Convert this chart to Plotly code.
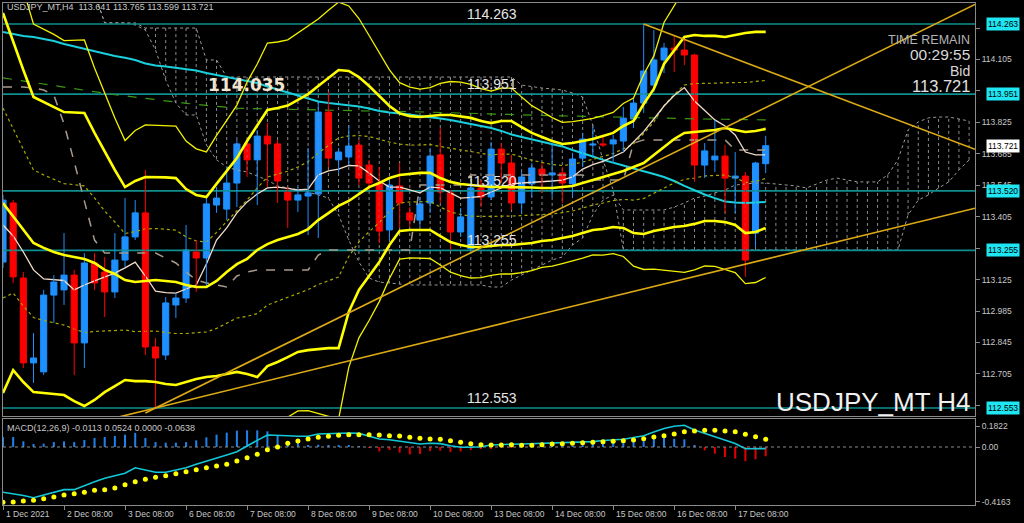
import plotly.graph_objects as go

# ---------------- data ----------------
bars = list(range(76))  # H4 bars from 1 Dec 08:00 to 17 Dec 20:00

opens = [113.203, 113.466, 113.132, 112.754, 112.714, 113.056, 113.079, 113.145, 112.843, 113.199,
         113.159, 113.070, 113.212, 113.315, 113.422, 112.825, 112.789, 113.012, 113.043, 113.248,
         113.221, 113.457, 113.439, 113.555, 113.729, 113.658, 113.764, 113.729, 113.515, 113.479,
         113.497, 113.506, 113.871, 113.658, 113.671, 113.724, 113.635, 113.555, 113.346, 113.542,
         113.422, 113.390, 113.466, 113.680, 113.511, 113.337, 113.262, 113.533, 113.493, 113.706,
         113.644, 113.466, 113.551, 113.617, 113.591, 113.600, 113.551, 113.666, 113.724, 113.729,
         113.729, 113.742, 113.840, 113.911, 113.991, 114.103, 114.156, 114.147, 114.125, 113.635,
         113.658, 113.675, 113.577, 113.586, 113.332, 113.641]
highs = [113.502, 113.479, 113.159, 112.887, 113.079, 113.145, 113.332, 113.168, 113.243, 113.243,
         113.226, 113.332, 113.488, 113.479, 113.613, 112.865, 113.047, 113.065, 113.368, 113.301,
         113.493, 113.537, 113.626, 113.747, 113.747, 113.791, 113.822, 113.747, 113.537, 113.537,
         113.711, 113.916, 113.960, 113.711, 113.813, 113.747, 113.658, 113.626, 113.568, 113.644,
         113.448, 113.493, 113.711, 113.800, 113.524, 113.444, 113.555, 113.568, 113.738, 113.733,
         113.680, 113.604, 113.644, 113.644, 113.733, 113.626, 113.689, 113.778, 113.804, 113.769,
         113.769, 113.894, 113.934, 114.263, 114.236, 114.179, 114.214, 114.205, 114.130, 113.733,
         113.836, 113.724, 113.693, 113.604, 113.649, 113.765]
lows = [113.177, 113.110, 112.731, 112.665, 112.700, 112.932, 113.012, 112.700, 112.731, 113.079,
        112.958, 113.043, 113.181, 113.301, 112.789, 112.553, 112.767, 112.954, 113.021, 113.070,
        113.092, 113.422, 113.390, 113.448, 113.582, 113.457, 113.537, 113.466, 113.355, 113.426,
        113.323, 113.310, 113.626, 113.600, 113.635, 113.546, 113.524, 113.288, 113.301, 113.355,
        113.359, 113.359, 113.422, 113.466, 113.257, 113.315, 113.255, 113.448, 113.479, 113.555,
        113.435, 113.422, 113.493, 113.511, 113.493, 113.466, 113.493, 113.626, 113.671, 113.715,
        113.644, 113.693, 113.800, 113.867, 113.960, 114.045, 114.049, 114.080, 113.560, 113.577,
        113.604, 113.422, 113.422, 113.137, 113.270, 113.599]
closes = [113.479, 113.137, 112.754, 112.776, 113.056, 113.114, 113.145, 112.843, 113.199, 113.110,
          113.070, 113.212, 113.315, 113.422, 112.825, 112.776, 113.021, 113.043, 113.257, 113.221,
          113.462, 113.488, 113.555, 113.729, 113.658, 113.764, 113.729, 113.564, 113.479, 113.502,
          113.511, 113.871, 113.666, 113.693, 113.720, 113.577, 113.555, 113.341, 113.546, 113.466,
          113.390, 113.462, 113.675, 113.515, 113.337, 113.404, 113.533, 113.493, 113.706, 113.644,
          113.466, 113.582, 113.622, 113.591, 113.600, 113.555, 113.662, 113.751, 113.729, 113.724,
          113.747, 113.844, 113.911, 114.054, 114.103, 114.156, 114.147, 114.125, 113.635, 113.698,
          113.675, 113.577, 113.586, 113.212, 113.644, 113.721]

# Bollinger band (middle, +2 sigma, -2 sigma)
bb_mid = [113.466, 113.408, 113.346, 113.288, 113.266, 113.248, 113.234, 113.226, 113.217, 113.199,
          113.168, 113.150, 113.123, 113.114, 113.119, 113.123, 113.119, 113.114, 113.101, 113.092,
          113.092, 113.119, 113.159, 113.194, 113.217, 113.257, 113.283, 113.301, 113.315, 113.328,
          113.350, 113.390, 113.421, 113.453, 113.475, 113.506, 113.537, 113.555, 113.577, 113.591,
          113.595, 113.600, 113.600, 113.577, 113.560, 113.551, 113.546, 113.542, 113.537, 113.537,
          113.537, 113.537, 113.535, 113.533, 113.533, 113.537, 113.542, 113.555, 113.568, 113.582,
          113.595, 113.609, 113.626, 113.644, 113.680, 113.715, 113.751, 113.778, 113.782, 113.787,
          113.791, 113.800, 113.791, 113.782, 113.787, 113.796]
bb_up2 = [114.312, 114.183, 114.058, 113.938, 113.916, 113.894, 113.871, 113.869, 113.867, 113.778,
          113.693, 113.613, 113.537, 113.564, 113.582, 113.582, 113.580, 113.577, 113.528, 113.502,
          113.493, 113.551, 113.609, 113.666, 113.742, 113.809, 113.880, 113.889, 113.900, 113.925,
          113.951, 113.987, 114.023, 114.058, 114.054, 114.027, 113.987, 113.943, 113.898, 113.865,
          113.853, 113.849, 113.853, 113.858, 113.858, 113.853, 113.845, 113.831, 113.822, 113.831,
          113.831, 113.804, 113.778, 113.760, 113.742, 113.729, 113.733, 113.742, 113.751, 113.764,
          113.778, 113.809, 113.831, 113.907, 113.974, 114.085, 114.147, 114.205, 114.214, 114.210,
          114.210, 114.205, 114.214, 114.223, 114.228, 114.228]
bb_lo2 = [112.620, 112.722, 112.669, 112.624, 112.620, 112.616, 112.611, 112.584, 112.562, 112.589,
          112.624, 112.651, 112.678, 112.673, 112.673, 112.669, 112.660, 112.656, 112.669, 112.682,
          112.691, 112.696, 112.705, 112.714, 112.705, 112.691, 112.740, 112.758, 112.780, 112.803,
          112.811, 112.816, 112.820, 112.820, 112.981, 113.079, 113.141, 113.203, 113.279, 113.341,
          113.346, 113.346, 113.346, 113.319, 113.292, 113.279, 113.270, 113.270, 113.275, 113.279,
          113.279, 113.283, 113.288, 113.297, 113.301, 113.310, 113.319, 113.332, 113.346, 113.350,
          113.359, 113.355, 113.332, 113.328, 113.341, 113.350, 113.359, 113.364, 113.373, 113.386,
          113.386, 113.381, 113.368, 113.332, 113.337, 113.355]

cyan_ma = [114.228, 114.219, 114.210, 114.205, 114.196, 114.187, 114.174, 114.163, 114.152, 114.141,
           114.130, 114.121, 114.113, 114.103, 114.087, 114.078, 114.074, 114.067, 114.061, 114.056,
           114.045, 114.036, 114.025, 114.018, 114.009, 114.000, 113.985, 113.971, 113.958, 113.945,
           113.931, 113.918, 113.911, 113.907, 113.900, 113.896, 113.887, 113.876, 113.869, 113.865,
           113.860, 113.853, 113.849, 113.842, 113.836, 113.827, 113.816, 113.807, 113.800, 113.787,
           113.771, 113.760, 113.749, 113.740, 113.729, 113.718, 113.702, 113.689, 113.673, 113.658,
           113.644, 113.633, 113.620, 113.609, 113.595, 113.582, 113.564, 113.542, 113.522, 113.504,
           113.488, 113.473, 113.468, 113.466, 113.468, 113.471]
green_ma = [114.023, 114.016, 114.009, 114.002, 113.995, 113.988, 113.981, 113.974, 113.967, 113.959,
            113.953, 113.948, 113.943, 113.937, 113.932, 113.926, 113.921, 113.916, 113.910, 113.905,
            113.900, 113.896, 113.891, 113.888, 113.887, 113.886, 113.884, 113.883, 113.882, 113.880,
            113.880, 113.879, 113.878, 113.877, 113.877, 113.876, 113.876, 113.875, 113.874, 113.873,
            113.873, 113.872, 113.871, 113.870, 113.869, 113.867, 113.865, 113.864, 113.863, 113.861,
            113.860, 113.859, 113.857, 113.856, 113.854, 113.853, 113.852, 113.850, 113.849, 113.847,
            113.846, 113.845, 113.844, 113.843, 113.843, 113.842, 113.842, 113.841, 113.840, 113.840,
            113.839, 113.839, 113.838, 113.837, 113.837, 113.836]

tenkan = [113.368, 113.319, 113.248, 113.168, 113.128, 113.123, 113.121, 113.079, 113.101, 113.119,
          113.137, 113.154, 113.177, 113.203, 113.141, 113.074, 113.067, 113.065, 113.083, 113.101,
          113.194, 113.301, 113.355, 113.422, 113.471, 113.506, 113.533, 113.537, 113.531, 113.524,
          113.528, 113.591, 113.609, 113.617, 113.633, 113.631, 113.600, 113.564, 113.537, 113.537,
          113.524, 113.511, 113.537, 113.533, 113.511, 113.488, 113.491, 113.495, 113.515, 113.533,
          113.551, 113.555, 113.557, 113.560, 113.564, 113.568, 113.582, 113.617, 113.637, 113.651,
          113.671, 113.693, 113.738, 113.784, 113.840, 113.898, 113.945, 113.980, 113.920, 113.876,
          113.836, 113.809, 113.769, 113.693, 113.680, 113.680]
kijun = [113.983, 113.983, 113.983, 113.978, 113.969, 113.947, 113.818, 113.649, 113.479, 113.301,
         113.243, 113.243, 113.243, 113.243, 113.243, 113.243, 113.221, 113.199, 113.159, 113.123,
         113.110, 113.101, 113.092, 113.141, 113.159, 113.168, 113.168, 113.168, 113.168, 113.168,
         113.168, 113.234, 113.257, 113.257, 113.257, 113.257, 113.257, 113.257, 113.257, 113.257,
         113.257, 113.546, 113.546, 113.546, 113.546, 113.546, 113.591, 113.591, 113.591, 113.591,
         113.591, 113.591, 113.591, 113.591, 113.591, 113.591, 113.591, 113.591, 113.568, 113.568,
         113.568, 113.568, 113.733, 113.747, 113.747, 113.747, 113.747, 113.747, 113.747, 113.747,
         113.747, 113.747, 113.702, 113.702, 113.702, 113.702]

# Ichimoku cloud (spans shifted forward), bar positions 9..95
cloud_x = list(range(9, 96))
span_p = [114.400, 114.268, 114.268, 114.268, 114.268, 114.245, 114.245, 114.245, 114.245, 114.245,
          114.245, 114.103, 114.103, 114.027, 114.027, 114.027, 114.027, 114.027, 114.027, 114.027,
          114.027, 114.027, 114.027, 114.027, 114.027, 114.027, 114.027, 114.027, 114.027, 114.027,
          114.027, 114.027, 114.027, 114.027, 114.027, 114.027, 114.027, 114.027, 114.027, 114.027,
          114.027, 114.027, 113.991, 113.983, 113.978, 113.974, 113.969, 113.956, 113.938, 113.813,
          113.658, 113.524, 113.257, 113.257, 113.257, 113.257, 113.257, 113.257, 113.257, 113.257,
          113.257, 113.257, 113.257, 113.257, 113.257, 113.257, 113.257, 113.257, 113.257, 113.257,
          113.257, 113.257, 113.257, 113.257, 113.257, 113.257, 113.257, 113.257, 113.257, 113.257,
          113.413, 113.479, 113.502, 113.533, 113.560, 113.613, 113.658]
span_q = [114.400, 114.268, 114.268, 114.268, 114.259, 114.236, 114.147, 114.014, 113.911, 113.858,
          113.858, 113.724, 113.658, 113.626, 113.613, 113.604, 113.586, 113.568, 113.542, 113.533,
          113.524, 113.515, 113.502, 113.488, 113.413, 113.301, 113.203, 113.132, 113.114, 113.110,
          113.105, 113.101, 113.101, 113.101, 113.101, 113.101, 113.101, 113.101, 113.101, 113.092,
          113.092, 113.123, 113.145, 113.168, 113.190, 113.212, 113.226, 113.279, 113.310, 113.413,
          113.479, 113.502, 113.435, 113.435, 113.435, 113.435, 113.435, 113.448, 113.466, 113.488,
          113.497, 113.511, 113.524, 113.546, 113.551, 113.555, 113.555, 113.551, 113.546, 113.542,
          113.533, 113.551, 113.568, 113.577, 113.568, 113.560, 113.560, 113.560, 113.591, 113.658,
          113.791, 113.827, 113.845, 113.849, 113.849, 113.840, 113.831]

# horizontal levels and trend lines (bar position, price)
levels = [114.263, 113.951, 113.520, 113.255, 112.553]
trend_x = [[9, 95.58], [14, 95.58], [63, 95.58]]
trend_y = [[112.487, 113.443], [112.531, 114.350], [114.263, 113.705]]

# MACD(12,26,9)
macd_main = [-0.312, -0.321, -0.334, -0.350, -0.331, -0.310, -0.294, -0.294, -0.266, -0.239,
             -0.216, -0.200, -0.181, -0.143, -0.159, -0.174, -0.174, -0.159, -0.143, -0.119,
             -0.099, -0.078, -0.055, -0.032, 0.009, 0.046, 0.083, 0.083, 0.078, 0.074,
             0.074, 0.090, 0.094, 0.097, 0.097, 0.094, 0.072, 0.055, 0.050, 0.039,
             0.028, 0.021, 0.026, 0.023, 0.009, -0.002, -0.002, 0.002, 0.014, 0.019,
             0.019, 0.021, 0.023, 0.024, 0.026, 0.026, 0.032, 0.034, 0.037, 0.045,
             0.048, 0.053, 0.066, 0.078, 0.103, 0.128, 0.143, 0.150, 0.117, 0.093,
             0.072, 0.048, 0.024, -0.012, -0.012, -0.011]
macd_signal = [-0.381, -0.379, -0.372, -0.368, -0.357, -0.345, -0.331, -0.322, -0.312, -0.299,
               -0.294, -0.283, -0.260, -0.239, -0.223, -0.209, -0.198, -0.184, -0.170, -0.157,
               -0.143, -0.131, -0.119, -0.097, -0.074, -0.050, -0.019, 0.000, 0.026, 0.041,
               0.055, 0.067, 0.074, 0.081, 0.085, 0.085, 0.085, 0.083, 0.078, 0.076,
               0.067, 0.060, 0.055, 0.053, 0.043, 0.032, 0.023, 0.016, 0.014, 0.014,
               0.016, 0.012, 0.012, 0.016, 0.021, 0.023, 0.026, 0.030, 0.032, 0.037,
               0.039, 0.043, 0.048, 0.057, 0.069, 0.078, 0.090, 0.106, 0.110, 0.115,
               0.115, 0.110, 0.106, 0.088, 0.071, 0.053]
macd_hist = [0.069, 0.069, 0.039, 0.021, 0.023, 0.034, 0.039, 0.034, 0.048, 0.062,
             0.069, 0.076, 0.085, 0.097, 0.062, 0.034, 0.030, 0.030, 0.034, 0.046,
             0.067, 0.085, 0.099, 0.113, 0.115, 0.115, 0.108, 0.076, 0.039, 0.034,
             0.011, 0.016, 0.011, 0.011, 0.011, 0.002, -0.005, -0.030, -0.021, -0.039,
             -0.051, -0.048, -0.028, -0.025, -0.034, -0.030, -0.021, -0.011, -0.007, -0.005,
             -0.002, 0.002, 0.003, 0.003, 0.004, 0.005, 0.006, 0.016, 0.023, 0.034,
             0.034, 0.039, 0.046, 0.053, 0.067, 0.062, 0.057, 0.053, 0.009, -0.023,
             -0.046, -0.069, -0.080, -0.097, -0.085, -0.064]

price_ticks = [114.245, 114.105, 113.965, 113.825, 113.685, 113.545, 113.405,
               113.265, 113.125, 112.985, 112.845, 112.705, 112.565]
date_ticks = [0, 6, 12, 18, 24, 30, 36, 42, 48, 54, 60, 66, 72]
date_labels = ["1 Dec 2021", "2 Dec 08:00", "3 Dec 08:00", "6 Dec 08:00", "7 Dec 08:00",
               "8 Dec 08:00", "9 Dec 08:00", "10 Dec 08:00", "13 Dec 08:00", "14 Dec 08:00",
               "15 Dec 08:00", "16 Dec 08:00", "17 Dec 08:00"]

# ---------------- figure ----------------
X_MAX = 95.58
FONT = "Liberation Sans, Arial, sans-serif"
fig = go.Figure()

def line(x, y, color, width=1.0, dash="solid", xa="x", ya="y"):
    fig.add_trace(go.Scatter(x=x, y=y, mode="lines", xaxis=xa, yaxis=ya, hoverinfo="skip",
                             line=dict(color=color, width=width, dash=dash)))

# cloud hatch + boundaries
hx, hy = [], []
for xi, p, q in zip(cloud_x, span_p, span_q):
    hx += [xi, xi, None]
    hy += [p, q, None]
line(hx, hy, "#8c8c8c", 1, "dot")
line(cloud_x, span_p, "#9a9a9a", 1, "dot")
line(cloud_x, span_q, "#9a9a9a", 1, "dot")

# horizontal levels
for lv in levels:
    line([0, X_MAX], [lv, lv], "#0f8f8f", 1.6)

line(bars, green_ma, "#3a9a12", 1.2, "dash")
line(bars, cyan_ma, "#19d0dc", 2)

# +-1 sigma dotted bands
up1 = [m + (u - m) / 2 for m, u in zip(bb_mid, bb_up2)]
lo1 = [m + (l - m) / 2 for m, l in zip(bb_mid, bb_lo2)]
line(bars, up1, "#a8a800", 1.2, "dot")
line(bars, lo1, "#a8a800", 1.2, "dot")

line(bars, kijun, "#a89a8c", 1.5, "dash")
line(bars, tenkan, "#f2dccb", 1.3)

# candles
up_x, up_y, dn_x, dn_y = [], [], [], []
for i, o, h, l, c in zip(bars, opens, highs, lows, closes):
    if c >= o:
        up_x += [i, i, None]; up_y += [l, h, None]
    else:
        dn_x += [i, i, None]; dn_y += [l, h, None]
line(up_x, up_y, "#1e90ff", 1)
line(dn_x, dn_y, "#ff0000", 1)
body_col = ["#1e90ff" if c >= o else "#ff0000" for o, c in zip(opens, closes)]
fig.add_trace(go.Bar(x=bars, y=[c - o for o, c in zip(opens, closes)], base=opens,
                     width=0.6, marker=dict(color=body_col, line=dict(color=body_col, width=1)),
                     xaxis="x", yaxis="y", hoverinfo="skip"))

# Bollinger thick/thin lines
up3 = [m + 1.5 * (u - m) for m, u in zip(bb_mid, bb_up2)]
lo3 = [m + 1.5 * (l - m) for m, l in zip(bb_mid, bb_lo2)]
line(bars, up3, "#f2f200", 1.3)
line(bars, lo3, "#f2f200", 1.3)
line(bars, bb_up2, "#ffff00", 2.6)
line(bars, bb_lo2, "#ffff00", 2.6)
line(bars, bb_mid, "#ffff00", 2.6)

# trend lines
for tx, ty in zip(trend_x, trend_y):
    line(tx, ty, "#dcaa14", 1.6)

# MACD panel
line([0, X_MAX], [0, 0], "#8a8a8a", 1, "dot", "x2", "y2")
hist_col = ["#2080e8" if v >= 0 else "#e00000" for v in macd_hist]
fig.add_trace(go.Bar(x=bars, y=macd_hist, width=0.2, marker=dict(color=hist_col, line=dict(width=0)),
                     xaxis="x2", yaxis="y2", hoverinfo="skip"))
line(bars, macd_main, "#12c8d8", 1.6, "solid", "x2", "y2")
fig.add_trace(go.Scatter(x=bars, y=macd_signal, mode="markers", xaxis="x2", yaxis="y2",
                         marker=dict(color="#ffff00", size=5), hoverinfo="skip"))

# ---------------- layout ----------------
def px_x(x):  # figure pixel -> paper x
    return (x - 3) / 972.0

def px_y(y):  # figure pixel -> paper y
    return (505 - y) / 502.0

axis_col = "#8a8a8a"
tick_font = dict(family=FONT, size=8.5, color="#c8c8c8")
hidden = {114.245, 113.965, 113.265, 112.565}  # covered by level boxes in the reference
fig.update_layout(
    width=1024, height=523, paper_bgcolor="black", plot_bgcolor="black",
    margin=dict(l=3, r=49, t=3, b=18), showlegend=False, barmode="overlay",
    xaxis=dict(domain=[0, 1], range=[0, X_MAX], anchor="y", showgrid=False, zeroline=False,
               showticklabels=False, showline=True, mirror=True, linecolor=axis_col),
    yaxis=dict(domain=[0.17729, 1], range=[112.5176, 114.3566], side="right", anchor="x",
               tickvals=price_ticks,
               ticktext=["" if v in hidden else "%.3f" % v for v in price_ticks],
               tickfont=tick_font, ticks="outside", ticklen=4, tickcolor=axis_col,
               showgrid=False, zeroline=False, showline=True, mirror=True, linecolor=axis_col),
    xaxis2=dict(domain=[0, 1], range=[0, X_MAX], anchor="y2", tickvals=date_ticks,
                ticks="outside", ticklen=4, tickcolor=axis_col, showticklabels=False,
                showgrid=False, zeroline=False, showline=True, mirror=True, linecolor=axis_col),
    yaxis2=dict(domain=[0, 0.17131], range=[-0.4, 0.1931], side="right", anchor="x2",
                tickvals=[0.1448, 0, -0.379], ticktext=["0.1822", "0.00", "-0.4163"],
                tickfont=tick_font, ticks="outside", ticklen=4, tickcolor=axis_col,
                showgrid=False, zeroline=False, showline=True, mirror=True, linecolor=axis_col),
)

ann = []
# date labels
for xi, lab in zip(date_ticks, date_labels):
    ann.append(dict(x=xi, xref="x2", y=0, yref="paper", yanchor="top", xanchor="left",
                    yshift=-2, xshift=1, text=lab, showarrow=False, font=tick_font))
# level texts on the chart
for lv in levels:
    ann.append(dict(x=48.1, xref="x", y=lv, yref="y", yanchor="bottom", xanchor="center",
                    text="%.3f" % lv, showarrow=False,
                    font=dict(family=FONT, size=14, color="#e6e6e6")))
# level boxes on the price scale
for lv in levels:
    ann.append(dict(x=px_x(986), xref="paper", y=lv, yref="y", xanchor="left", yanchor="middle",
                    text="%.3f" % lv, showarrow=False, bgcolor="#1ee6f2", borderpad=1,
                    font=dict(family=FONT, size=8.5, color="#000000")))
ann.append(dict(x=px_x(986), xref="paper", y=closes[-1], yref="y", xanchor="left", yanchor="middle",
                text="%.3f" % closes[-1], showarrow=False, bgcolor="#ffffff", borderpad=1,
                font=dict(family=FONT, size=8.5, color="#000000")))
# misc texts
ann += [
    dict(x=px_x(246), xref="paper", y=px_y(85), yref="paper", xanchor="center", yanchor="middle",
         text="<b>114.035</b>", showarrow=False,
         font=dict(family="DejaVu Sans, sans-serif", size=17, color="#f3e4cf")),
    dict(x=px_x(5), xref="paper", y=px_y(7), yref="paper", xanchor="left", yanchor="middle",
         text="USDJPY_MT,H4  113.641 113.765 113.599 113.721", showarrow=False,
         font=dict(family=FONT, size=9, color="#c8c8c8")),
    dict(x=px_x(5), xref="paper", y=px_y(427.5), yref="paper", xanchor="left", yanchor="middle",
         text="MACD(12,26,9) -0.0113 0.0524 0.0000 -0.0638", showarrow=False,
         font=dict(family=FONT, size=9, color="#c8c8c8")),
    dict(x=px_x(971), xref="paper", y=px_y(40), yref="paper", xanchor="right", yanchor="middle",
         text="TIME REMAIN", showarrow=False, borderpad=0,
         font=dict(family=FONT, size=12.5, color="#b4b4b4")),
    dict(x=px_x(971), xref="paper", y=px_y(54), yref="paper", xanchor="right", yanchor="middle",
         text="00:29:55", showarrow=False, borderpad=0,
         font=dict(family=FONT, size=15.5, color="#d8d8d8")),
    dict(x=px_x(971), xref="paper", y=px_y(71), yref="paper", xanchor="right", yanchor="middle",
         text="Bid", showarrow=False, borderpad=0,
         font=dict(family=FONT, size=14, color="#d8d8d8")),
    dict(x=px_x(971), xref="paper", y=px_y(86), yref="paper", xanchor="right", yanchor="middle",
         text="113.721", showarrow=False, borderpad=0,
         font=dict(family=FONT, size=16.5, color="#e0e0e0")),
    dict(x=px_x(973), xref="paper", y=px_y(402), yref="paper", xanchor="right", yanchor="middle",
         text="USDJPY_MT H4", showarrow=False, font=dict(family=FONT, size=26, color="#f0f0f0")),
]
fig.update_layout(annotations=ann)

fig.write_html("out.html", config={"responsive": False, "displayModeBar": False},
               post_script="document.body.style.margin='0';document.body.style.overflow='hidden';")
